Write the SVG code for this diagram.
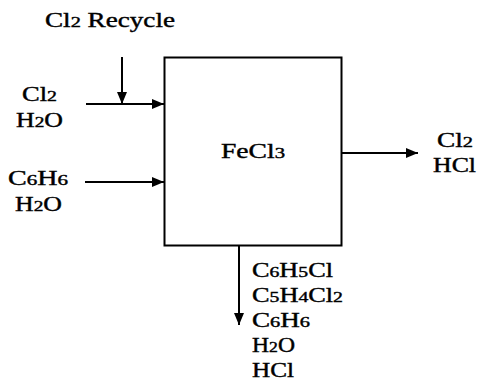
<svg xmlns="http://www.w3.org/2000/svg" width="478" height="388" viewBox="0 0 478 388">
<style>
text{font-family:"Liberation Serif","Times New Roman",serif;font-size:20px;fill:#000;stroke:#000;stroke-width:0.4}
.s{font-size:15px}
.ln{stroke:#000;stroke-width:2;fill:none}
</style>
<defs>
<marker id="ah" markerWidth="12" markerHeight="10" refX="12" refY="5" orient="auto" markerUnits="userSpaceOnUse">
<path d="M0,0 L12,5 L0,10 Z" fill="#000"/>
</marker>
</defs>
<rect width="478" height="388" fill="#fff"/>
<g id="reactor">
<rect x="164.5" y="57.5" width="177" height="188" class="ln"/>
<text x="221" y="158" textLength="64" lengthAdjust="spacingAndGlyphs">FeCl<tspan class="s">3</tspan></text>
</g>
<g id="connectors">
<line x1="122" y1="57" x2="122" y2="104" class="ln" marker-end="url(#ah)"/>
<line x1="86" y1="104" x2="164" y2="104" class="ln" marker-end="url(#ah)"/>
<line x1="85" y1="182" x2="164" y2="182" class="ln" marker-end="url(#ah)"/>
<line x1="341" y1="153" x2="418" y2="153" class="ln" marker-end="url(#ah)"/>
<line x1="239" y1="245" x2="239" y2="325" class="ln" marker-end="url(#ah)"/>
</g>
<g id="recycle-label">
<text x="45" y="27" textLength="130" lengthAdjust="spacingAndGlyphs">Cl<tspan class="s">2</tspan> Recycle</text>
</g>
<g id="feed1">
<text x="22" y="101" textLength="35" lengthAdjust="spacingAndGlyphs">Cl<tspan class="s">2</tspan></text>
<text x="16" y="127" textLength="47" lengthAdjust="spacingAndGlyphs">H<tspan class="s">2</tspan>O</text>
</g>
<g id="feed2">
<text x="8" y="185" textLength="60" lengthAdjust="spacingAndGlyphs">C<tspan class="s">6</tspan>H<tspan class="s">6</tspan></text>
<text x="15" y="211" textLength="47" lengthAdjust="spacingAndGlyphs">H<tspan class="s">2</tspan>O</text>
</g>
<g id="gas-out">
<text x="437" y="147" textLength="36" lengthAdjust="spacingAndGlyphs">Cl<tspan class="s">2</tspan></text>
<text x="433" y="172" textLength="43" lengthAdjust="spacingAndGlyphs">HCl</text>
</g>
<g id="liquid-out">
<text x="252" y="277" textLength="81" lengthAdjust="spacingAndGlyphs">C<tspan class="s">6</tspan>H<tspan class="s">5</tspan>Cl</text>
<text x="252" y="302" textLength="91" lengthAdjust="spacingAndGlyphs">C<tspan class="s">5</tspan>H<tspan class="s">4</tspan>Cl<tspan class="s">2</tspan></text>
<text x="252" y="327" textLength="58" lengthAdjust="spacingAndGlyphs">C<tspan class="s">6</tspan>H<tspan class="s">6</tspan></text>
<text x="252" y="352" textLength="43" lengthAdjust="spacingAndGlyphs">H<tspan class="s">2</tspan>O</text>
<text x="252" y="377" textLength="42" lengthAdjust="spacingAndGlyphs">HCl</text>
</g>
</svg>
